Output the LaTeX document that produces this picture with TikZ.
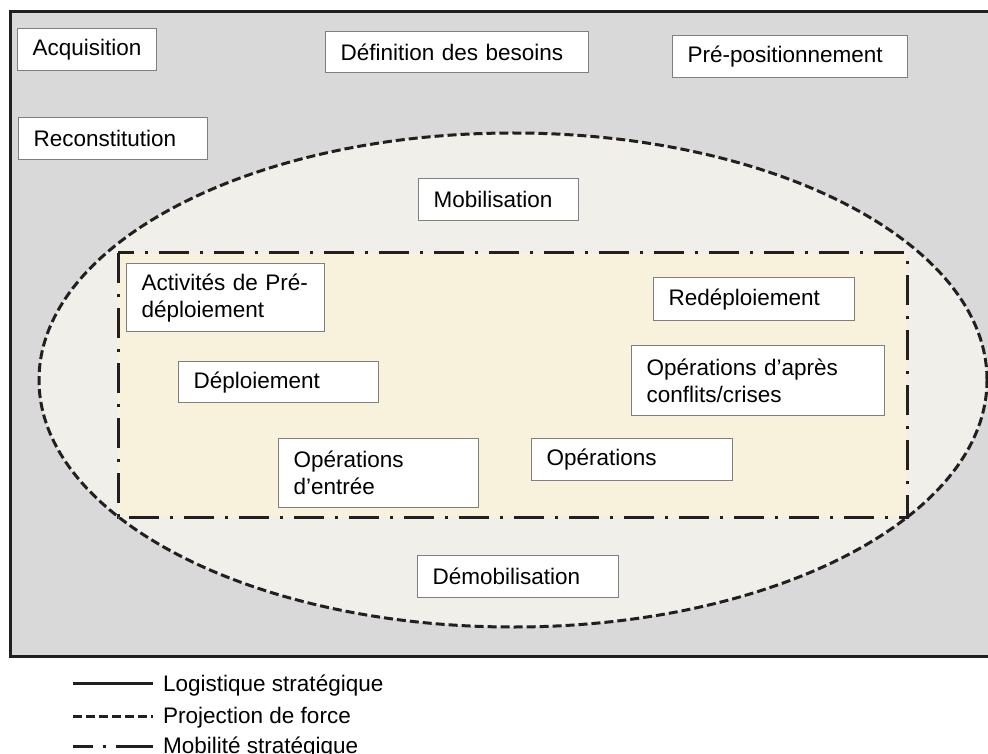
\documentclass[tikz,border=0pt]{standalone}
\usepackage{fontspec}
\setmainfont{Liberation Sans}
\definecolor{bggray}{HTML}{D9D9D9}
\definecolor{ellfill}{HTML}{F1EFE9}
\definecolor{rectfill}{HTML}{F8F2DC}
\definecolor{darkline}{HTML}{231F20}
\definecolor{boxgray}{HTML}{7F7F7F}
\begin{document}
\begin{tikzpicture}[x=1pt,y=-1pt,
  txt/.style={font=\fontsize{22.5}{27}\selectfont},
  box/.style={txt, draw=boxgray, line width=1.3pt, fill=white, anchor=north west,
    inner xsep=15pt, inner ysep=0pt, align=left},
  solidline/.style={draw=darkline, line width=3pt},
  dashline/.style={draw=darkline, line width=3pt, dash pattern=on 9pt off 4pt},
  dashdotline/.style={draw=darkline, line width=3pt, dash pattern=on 30pt off 11pt on 3pt off 11pt},
  legtext/.style={txt, anchor=base west, inner sep=0pt}]
\path[use as bounding box] (0,0) rectangle (988,754);
\clip (0,0) rectangle (988,754);
% outer frame
\fill[bggray] (10,12) rectangle (1000,656);
\draw[solidline] (10,12) rectangle (1000,656);
% ellipse
\fill[ellfill] (513,380) ellipse [x radius=474pt, y radius=247pt];
\draw[dashline] (513,380) ellipse [x radius=474pt, y radius=247pt];
% inner rectangle
\fill[rectfill] (118,253) rectangle (907,517);
\draw[dashdotline] (118,253) rectangle (907,517);
% boxes
\node[box, text width=109pt, minimum height=42pt] (acq) at (17,28) {Acquisition};
\node[box, text width=233pt, minimum height=41pt] (def) at (325,31) {Définition des besoins};
\node[box, text width=205pt, minimum height=42pt] (prepos) at (672,35) {Pré-positionnement};
\node[box, text width=159pt, minimum height=42pt] (recon) at (18,117) {Reconstitution};
\node[box, text width=130pt, minimum height=42pt] (mob) at (418,178) {Mobilisation};
\node[box, text width=168pt, minimum height=68pt] (actpre) at (126,263) {Activités de Pré-\\déploiement};
\node[box, text width=170pt, minimum height=41pt] (deploi) at (178,361) {Déploiement};
\node[box, text width=170pt, minimum height=69pt] (opentree) at (278,438) {Opérations\\d’entrée};
\node[box, text width=171pt, minimum height=42pt] (oper) at (531,438) {Opérations};
\node[box, text width=171pt, minimum height=42pt] (demob) at (417,555) {Démobilisation};
\node[box, text width=171pt, minimum height=43pt] (redep) at (653,277) {Redéploiement};
\node[box, text width=223pt, minimum height=70pt] (opapres) at (631,345) {Opérations d’après\\conflits/crises};
% legend
\coordinate (l1a) at (73,683); \coordinate (l1b) at (153,683);
\coordinate (l2a) at (73,716); \coordinate (l2b) at (153,716);
\coordinate (l3a) at (73,746); \coordinate (l3b) at (153,746);
\draw[solidline] (l1a) -- (l1b);
\draw[dashline] (l2a) -- (l2b);
\draw[draw=darkline, line width=3pt, dash pattern=on 20pt off 10pt on 3pt off 10pt on 40pt] (l3a) -- (l3b);
\node[legtext] (leg1) at (163,691) {Logistique stratégique};
\node[legtext] (leg2) at (163,723) {Projection de force};
\node[legtext] (leg3) at (163,753) {Mobilité stratégique};
\end{tikzpicture}
\end{document}
